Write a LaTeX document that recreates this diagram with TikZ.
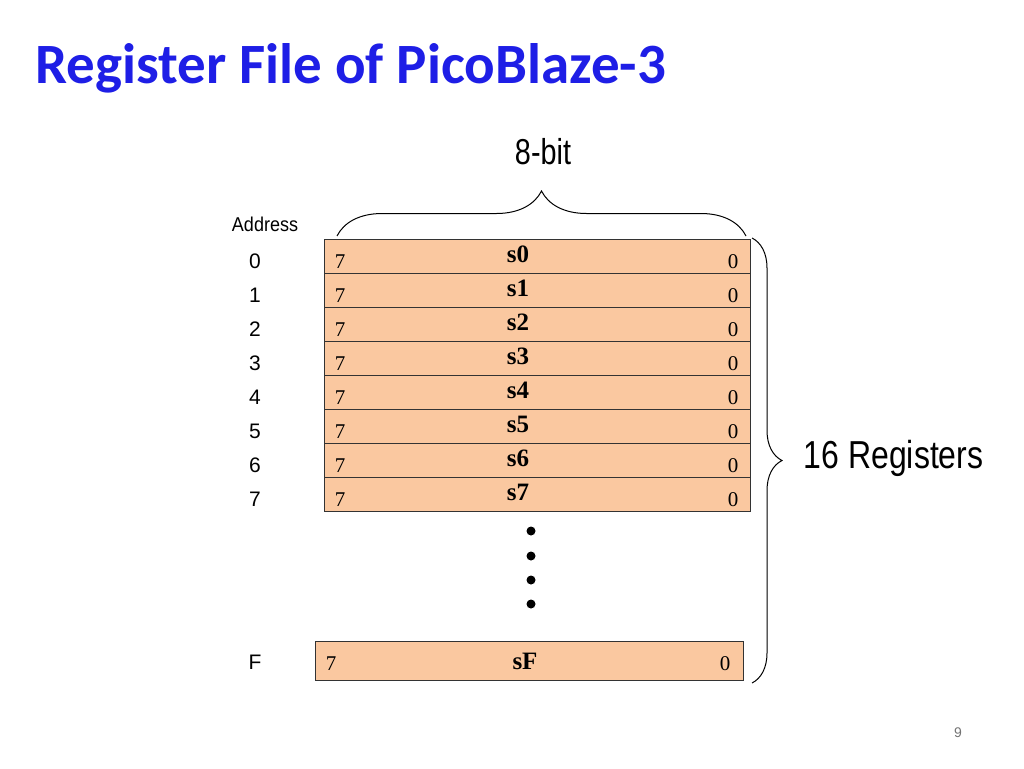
\documentclass[tikz,border=0pt]{standalone}
\usepackage{fontspec}
\setmainfont{Liberation Serif}
\newfontfamily\titlefont{Carlito}
\newfontfamily\arial{Liberation Sans}
\usetikzlibrary{decorations.pathreplacing}
\definecolor{regfill}{RGB}{250,200,160}
\definecolor{titleblue}{RGB}{30,30,230}
\begin{document}
\begin{tikzpicture}[x=1pt,y=-1pt,
  reg/.style={draw=black!80,fill=regfill,line width=0.8pt},
  bit/.style={font=\fontsize{21}{21}\selectfont},
  rname/.style={font=\fontsize{25}{25}\selectfont\bfseries},
  addr/.style={font=\arial\fontsize{21}{21}\selectfont},
  dot/.style={circle,fill=black,inner sep=0pt,minimum size=9pt}]
\useasboundingbox (0,0) rectangle (1024,768);
\node[anchor=west,text=titleblue,font=\titlefont\bfseries\fontsize{57}{57}\selectfont] (title) at (32,68) {Register File of PicoBlaze-3};
\node[font=\arial\fontsize{36}{36}\selectfont,xscale=0.8] (eight) at (543,152) {8-bit};
\node[font=\arial\fontsize{20}{20}\selectfont,xscale=0.9] (address) at (265,224) {Address};
\foreach \i in {0,...,7}{
  \pgfmathsetmacro{\yt}{239+34*\i}
  \pgfmathsetmacro{\yb}{\yt+34}
  \draw[reg] (324,\yt) rectangle (750,\yb);
  \node[bit] (l\i) at (340,\yt+23) {7};
  \node[bit] (r\i) at (733,\yt+23) {0};
  \node[rname] (s\i) at (518,\yt+15) {s\i};
  \node[addr] (a\i) at (255,\yt+22) {\i};
}
\draw[reg] (315,641) rectangle (743,680);
\node[bit] (lF) at (331,664) {7};
\node[bit] (rF) at (725,664) {0};
\node[rname] (sF) at (525,661) {sF};
\node[addr] (aF) at (255,662) {F};
\foreach \y/\n in {531/d1,556/d2,580/d3,604/d4}{\node[dot] (\n) at (531,\y) {};}
\draw[line width=1pt,decoration={brace,amplitude=45pt},decorate] (337,236) -- (746,236);
\draw[line width=1pt,decoration={brace,amplitude=30pt},decorate] (752,238) -- (752,683);
\node[anchor=west,font=\arial\fontsize{39}{39}\selectfont,xscale=0.82] (sixteen) at (801,458) {16 Registers};
\node[text=black!55,font=\arial\fontsize{14}{14}\selectfont] (page) at (958,733) {9};
\end{tikzpicture}
\end{document}
